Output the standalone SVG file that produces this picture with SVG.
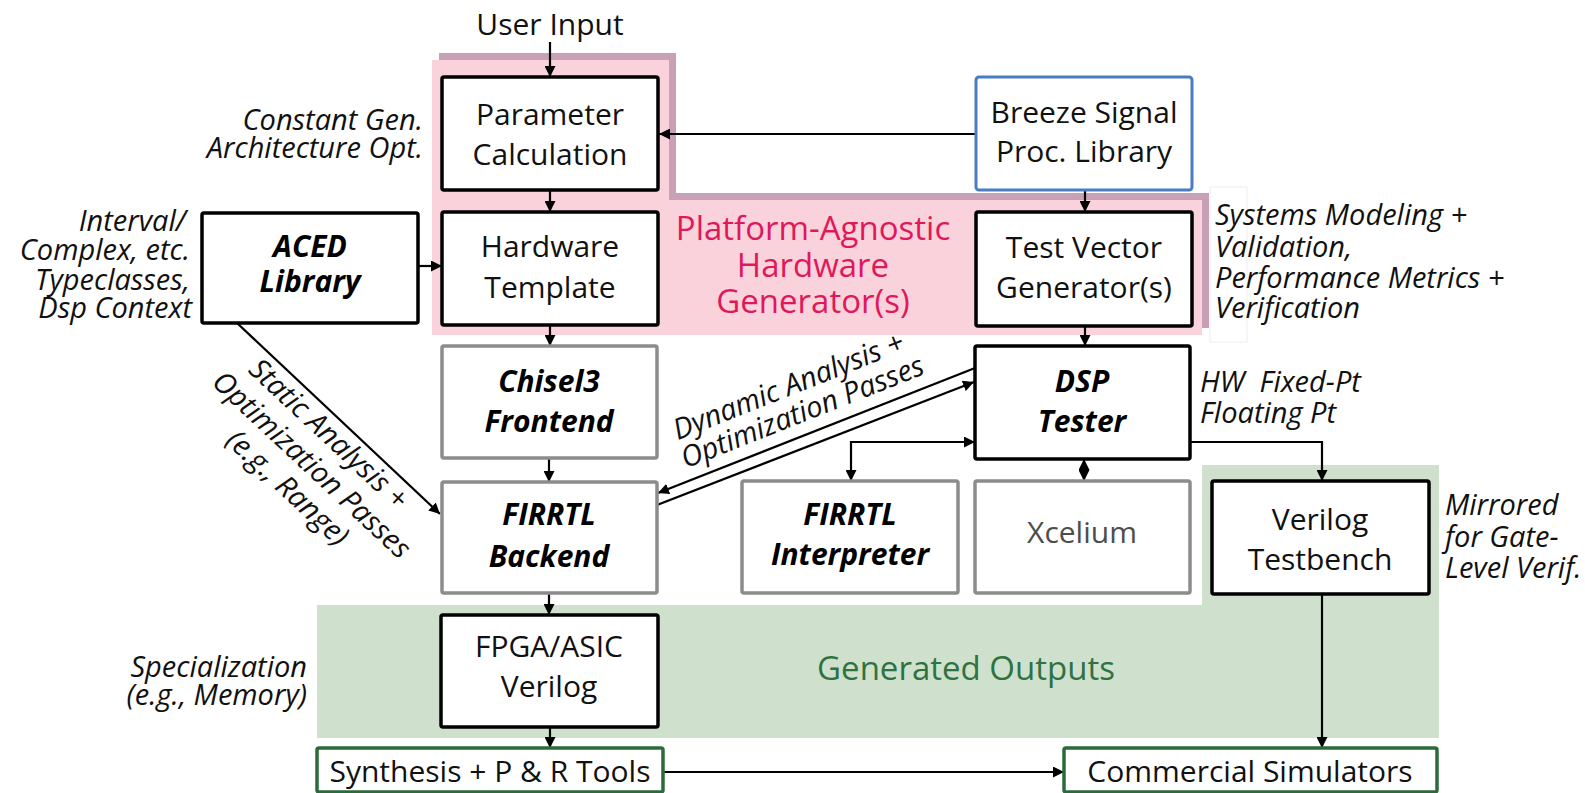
<svg xmlns="http://www.w3.org/2000/svg" width="1585" height="793" viewBox="0 0 1585 793">
  <defs>
    <style>
      .bg { fill: #ffffff; }
      .box { fill: #ffffff; stroke: #000000; stroke-width: 3.5; }
      .gbox { fill: #ffffff; stroke: #8c8c8c; stroke-width: 3.5; }
      .bbox { fill: #ffffff; stroke: #4a7cc4; stroke-width: 3; }
      .obox { fill: #ffffff; stroke: #2b6b3b; stroke-width: 3.5; }
      .t { font-family: "Open Sans", "Noto Sans", sans-serif; font-size: 30px; fill: #111111; text-anchor: middle; }
      .tb { font-family: "Open Sans", "Noto Sans", sans-serif; font-size: 30px; font-weight: bold; font-style: italic; fill: #000000; text-anchor: middle; }
      .tx { font-family: "Open Sans", "Noto Sans", sans-serif; font-size: 30px; fill: #4d4d4d; text-anchor: middle; }
      .note { font-family: "Open Sans", "Noto Sans", sans-serif; font-size: 29px; font-style: italic; fill: #111111; }
      .r { text-anchor: end; }
      .c { text-anchor: middle; }
      .wire { fill: none; stroke: #000000; stroke-width: 2.2; }
      .pinklbl { font-family: "Open Sans", "Noto Sans", sans-serif; font-size: 33px; fill: #e0185a; text-anchor: middle; }
      .greenlbl { font-family: "Open Sans", "Noto Sans", sans-serif; font-size: 33px; fill: #2e7242; text-anchor: middle; }
    </style>
    <marker id="arrow" viewBox="0 0 10 10" refX="10" refY="5" markerWidth="5" markerHeight="5" markerUnits="strokeWidth" orient="auto-start-reverse">
      <path d="M0,0 L10,5 L0,10 Z" fill="#000000"/>
    </marker>
  </defs>

  <rect class="bg" x="0" y="0" width="1585" height="793"/>

  <!-- platform-agnostic generator region, with its offset shadow -->
  <g id="region-generator">
    <polygon points="439,53 676,53 676,193 1209,193 1209,328 439,328" fill="#c9a1b6"/>
    <polygon points="432,60 669,60 669,200 1202,200 1202,335 432,335" fill="#f9d2dc"/>
    <text class="pinklbl" x="813" y="240">Platform-Agnostic</text>
    <text class="pinklbl" x="813" y="277">Hardware</text>
    <text class="pinklbl" x="813" y="313">Generator(s)</text>
  </g>

  <!-- generated outputs region -->
  <g id="region-outputs">
    <polygon points="317,605 1202,605 1202,465 1439,465 1439,738 317,738" fill="#cfe1cd"/>
    <text class="greenlbl" x="966" y="680">Generated Outputs</text>
  </g>

  <!-- faint frame behind the systems modeling note -->
  <rect x="1210" y="187" width="37" height="155" fill="#ffffff" stroke="#eeeeee" stroke-width="1"/>

  <!-- connectors -->
  <g id="connectors">
    <line class="wire" x1="550" y1="42" x2="550" y2="77" marker-end="url(#arrow)"/>
    <line class="wire" x1="550" y1="190" x2="550" y2="212" marker-end="url(#arrow)"/>
    <line class="wire" x1="550" y1="325" x2="550" y2="346" marker-end="url(#arrow)"/>
    <line class="wire" x1="549" y1="458" x2="549" y2="482" marker-end="url(#arrow)"/>
    <line class="wire" x1="549" y1="593" x2="549" y2="615" marker-end="url(#arrow)"/>
    <line class="wire" x1="550" y1="727" x2="550" y2="748" marker-end="url(#arrow)"/>
    <line class="wire" x1="976" y1="134" x2="659" y2="134" marker-end="url(#arrow)"/>
    <line class="wire" x1="1085" y1="190" x2="1085" y2="212" marker-end="url(#arrow)"/>
    <line class="wire" x1="1085" y1="326" x2="1085" y2="346" marker-end="url(#arrow)"/>
    <line class="wire" x1="418" y1="266" x2="442" y2="266" marker-end="url(#arrow)"/>
    <line class="wire" x1="237" y1="323" x2="440" y2="514" marker-end="url(#arrow)"/>
    <line class="wire" x1="975" y1="368" x2="658" y2="493" marker-end="url(#arrow)"/>
    <line class="wire" x1="657" y1="505" x2="974" y2="382" marker-end="url(#arrow)"/>
    <path class="wire" d="M851,481 V442 H975" marker-start="url(#arrow)" marker-end="url(#arrow)"/>
    <line class="wire" x1="1084" y1="459" x2="1084" y2="481" marker-start="url(#arrow)" marker-end="url(#arrow)"/>
    <path class="wire" d="M1190,442 H1322 V481" marker-end="url(#arrow)"/>
    <line class="wire" x1="1322" y1="594" x2="1322" y2="748" marker-end="url(#arrow)"/>
    <line class="wire" x1="663" y1="772" x2="1064" y2="772" marker-end="url(#arrow)"/>
  </g>

  <!-- nodes -->
  <g id="parameter-calculation">
    <rect class="box" x="442" y="77" width="216" height="113" rx="2"/>
    <text class="t" x="550" y="125">Parameter</text>
    <text class="t" x="550" y="165">Calculation</text>
  </g>
  <g id="hardware-template">
    <rect class="box" x="442" y="212" width="216" height="113" rx="2"/>
    <text class="t" x="550" y="257">Hardware</text>
    <text class="t" x="550" y="298">Template</text>
  </g>
  <g id="breeze-library">
    <rect class="bbox" x="976" y="77" width="216" height="113" rx="3"/>
    <text class="t" x="1084" y="123">Breeze Signal</text>
    <text class="t" x="1084" y="162">Proc. Library</text>
  </g>
  <g id="test-vector-generator">
    <rect class="box" x="976" y="212" width="216" height="114" rx="2"/>
    <text class="t" x="1084" y="258">Test Vector</text>
    <text class="t" x="1084" y="298">Generator(s)</text>
  </g>
  <g id="aced-library">
    <rect class="box" x="202" y="213" width="216" height="110" rx="2"/>
    <text class="tb" x="310" y="257">ACED</text>
    <text class="tb" x="310" y="292">Library</text>
  </g>
  <g id="chisel3-frontend">
    <rect class="gbox" x="442" y="346" width="215" height="112" rx="2"/>
    <text class="tb" x="549" y="392">Chisel3</text>
    <text class="tb" x="549" y="432">Frontend</text>
  </g>
  <g id="firrtl-backend">
    <rect class="gbox" x="442" y="482" width="215" height="111" rx="2"/>
    <text class="tb" x="549" y="525">FIRRTL</text>
    <text class="tb" x="549" y="567">Backend</text>
  </g>
  <g id="dsp-tester">
    <rect class="box" x="975" y="346" width="215" height="113" rx="2"/>
    <text class="tb" x="1082" y="392">DSP</text>
    <text class="tb" x="1082" y="432">Tester</text>
  </g>
  <g id="firrtl-interpreter">
    <rect class="gbox" x="742" y="481" width="216" height="112" rx="2"/>
    <text class="tb" x="850" y="525">FIRRTL</text>
    <text class="tb" x="850" y="565">Interpreter</text>
  </g>
  <g id="xcelium">
    <rect class="gbox" x="975" y="481" width="215" height="112" rx="2"/>
    <text class="tx" x="1082" y="543">Xcelium</text>
  </g>
  <g id="verilog-testbench">
    <rect class="box" x="1212" y="481" width="217" height="113" rx="2"/>
    <text class="t" x="1320" y="530">Verilog</text>
    <text class="t" x="1320" y="570">Testbench</text>
  </g>
  <g id="fpga-asic-verilog">
    <rect class="box" x="441" y="615" width="217" height="112" rx="2"/>
    <text class="t" x="549" y="657">FPGA/ASIC</text>
    <text class="t" x="549" y="697">Verilog</text>
  </g>
  <g id="synthesis-tools">
    <rect class="obox" x="317" y="748" width="346" height="44" rx="2"/>
    <text class="t" x="490" y="782">Synthesis + P &amp; R Tools</text>
  </g>
  <g id="commercial-simulators">
    <rect class="obox" x="1064" y="748" width="373" height="44" rx="2"/>
    <text class="t" x="1250" y="782">Commercial Simulators</text>
  </g>

  <!-- annotations -->
  <g id="annotations">
    <text class="t" x="550" y="35">User Input</text>
    <text class="note r" x="423" y="130">Constant Gen.</text>
    <text class="note r" x="423" y="158">Architecture Opt.</text>
    <text class="note r" x="186" y="231">Interval/</text>
    <text class="note r" x="190" y="260">Complex, etc.</text>
    <text class="note r" x="190" y="290">Typeclasses,</text>
    <text class="note r" x="192" y="318">Dsp Context</text>
    <text class="note" x="1215" y="225">Systems Modeling +</text>
    <text class="note" x="1215" y="257">Validation,</text>
    <text class="note" x="1215" y="288">Performance Metrics +</text>
    <text class="note" x="1215" y="318">Verification</text>
    <text class="note" x="1200" y="392" xml:space="preserve">HW  Fixed-Pt</text>
    <text class="note" x="1200" y="423">Floating Pt</text>
    <text class="note" x="1445" y="515">Mirrored</text>
    <text class="note" x="1445" y="547">for Gate-</text>
    <text class="note" x="1445" y="578">Level Verif.</text>
    <text class="note r" x="307" y="677">Specialization</text>
    <text class="note r" x="307" y="705">(e.g., Memory)</text>
    <text class="note c" transform="translate(322,441) rotate(43)">Static Analysis +</text>
    <text class="note c" transform="translate(305,472) rotate(43)">Optimization Passes</text>
    <text class="note c" transform="translate(281,495) rotate(43)">(e.g., Range)</text>
    <text class="note c" transform="translate(792,395) rotate(-21.6)">Dynamic Analysis +</text>
    <text class="note c" transform="translate(806,421) rotate(-21.6)">Optimization Passes</text>
  </g>
</svg>
